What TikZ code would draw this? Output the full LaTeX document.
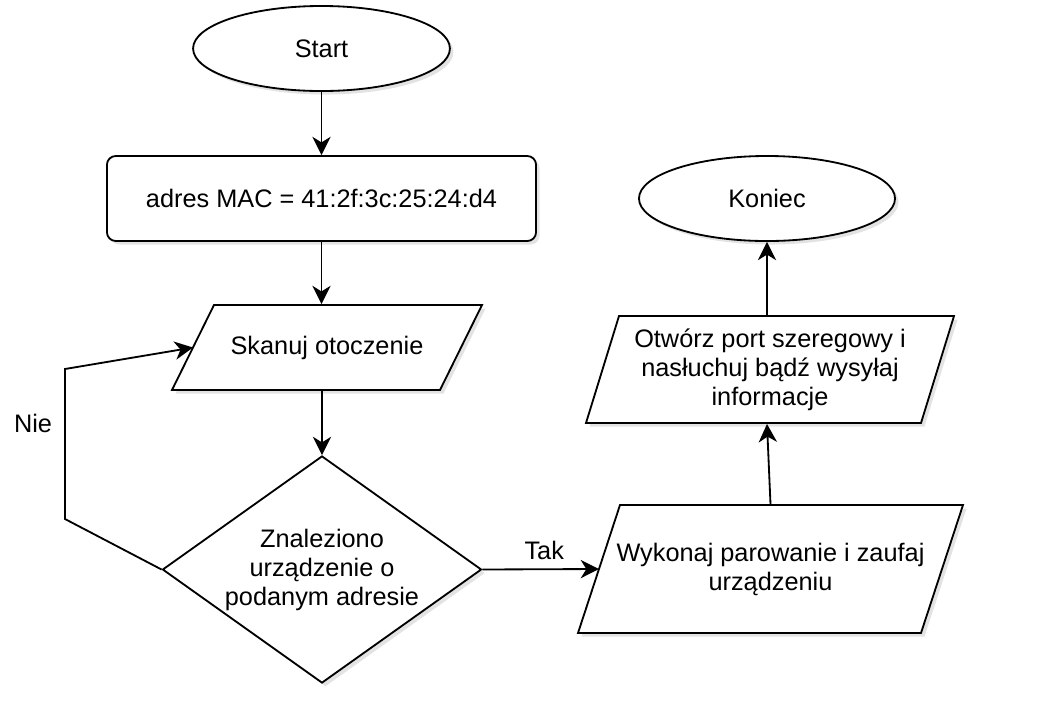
\documentclass[tikz,border=0pt]{standalone}
\usepackage{fontspec}
\setmainfont{Liberation Sans}
\usetikzlibrary{shapes.geometric,arrows.meta,shadows}

\tikzset{
  box/.style={draw, fill=white, align=center, font=\fontsize{18pt}{20.6pt}\selectfont,
    drop shadow={opacity=0.22, shadow xshift=2.5pt, shadow yshift=-2.5pt}},
  term/.style={box, ellipse, minimum width=6.42cm, minimum height=2.125cm},
  proc/.style={box, rectangle, rounded corners=0.22cm, minimum width=10.725cm, minimum height=2.125cm},
  decision/.style={box, diamond, shape aspect=1.4, inner sep=0pt, minimum width=7.975cm, minimum height=5.675cm},
  lbl/.style={font=\fontsize{18pt}{20.6pt}\selectfont}
}

% bloc entrée/sortie : #1 nom, #2 x, #3 y, #4 largeur, #5 hauteur, #6 décalage, #7 texte
\newcommand{\ioblock}[7]{
  \draw[box] (#2-#4/2,#3+#5/2) -- ++(#6,-#5) -- (#2+#4/2,#3-#5/2) -- ++(-#6,#5) -- cycle;
  \node[lbl, align=center, inner sep=0pt, minimum width=#4*0.025cm, minimum height=#5*0.025cm] (#1) at (#2,#3) {#7};
  \coordinate (#1-left) at (#2-#4/2+#6/2,#3);
}

\begin{document}
\begin{tikzpicture}[x=0.025cm, y=-0.025cm, line width=1.3pt, >={Stealth[length=13pt, width=13pt, inset=4pt]}]
 \useasboundingbox (0,0) rectangle (1055,706); % taille de l'image

 % les blocs
 \node[term] (start) at (321.5,48.5) {Start};
 \node[proc] (mac) at (321.5,198.5) {adres MAC = 41:2f:3c:25:24:d4};
 \ioblock{scan}{327}{347.5}{310}{85}{42}{Skanuj otoczenie}
 \node[decision] (found) at (322,569.5) {Znaleziono\\urządzenie o\\podanym adresie};
 \ioblock{pair}{770.5}{569}{385}{128}{42}{Wykonaj parowanie i zaufaj\\urządzeniu}
 \ioblock{serial}{770}{369.5}{368}{107}{33}{Otwórz port szeregowy i\\nasłuchuj bądź wysyłaj\\informacje}
 \node[term, minimum width=6.4cm] (stop) at (767,198.5) {Koniec};

 % les flèches
 \draw[->] (start) -- (mac);
 \draw[->] (mac.south) -- (mac.south |- scan.north);
 \draw[->] (found.north |- scan.south) -- (found.north);
 \draw[->] (found.east) -- (pair-left) node[lbl, pos=0.53, above=3pt] (yes) {Tak};
 \draw[->] (pair.north) -- (serial.south -| stop.south);
 \draw[->] (serial.north -| stop.south) -- (stop.south);

 % la boucle "Nie"
 \coordinate (loopdown) at (65,519);
 \coordinate (loopup) at (65,369);
 \draw[->] (found.west) -- (loopdown) -- (loopup) -- (scan-left);
 \node[lbl] (no) at (33,423) {Nie};
\end{tikzpicture}
\end{document}
